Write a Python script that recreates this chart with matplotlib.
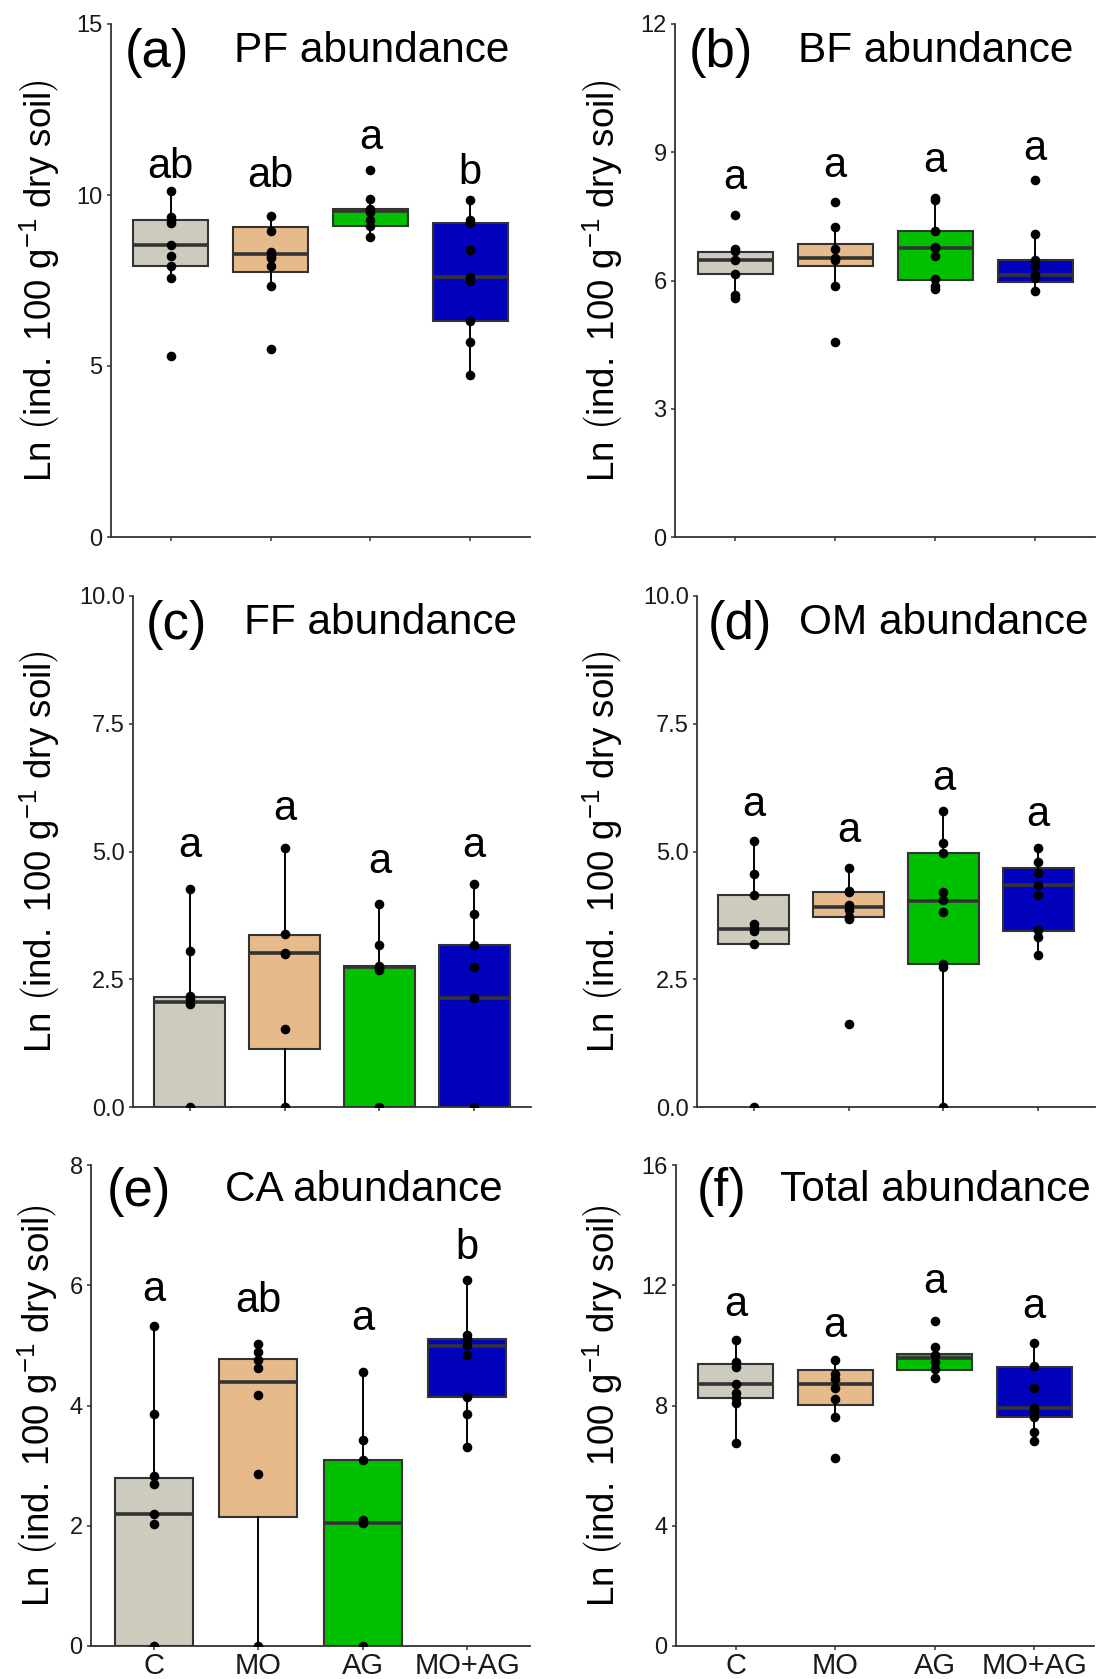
import matplotlib.pyplot as plt

plt.rcParams['font.family'] = 'Liberation Sans'
plt.rcParams['mathtext.fontset'] = 'custom'
plt.rcParams['mathtext.rm'] = 'Liberation Sans'
plt.rcParams['mathtext.it'] = 'Liberation Sans:italic'
plt.rcParams['mathtext.bf'] = 'Liberation Sans:bold'

W, H = 1096, 1679

groups = ['C', 'MO', 'AG', 'MO+AG']
colors = ['#CDCBBE', '#E6BA8A', '#00C000', '#0202BC']

# box stats per group: whislo, q1, median, q3, whishi
pf_box = [[7.56, 7.92, 8.53, 9.28, 10.12],
          [7.33, 7.75, 8.27, 9.05, 9.39],
          [8.76, 9.10, 9.53, 9.60, 9.88],
          [4.74, 6.33, 7.59, 9.18, 9.84]]
pf_pts = [[10.12, 9.36, 9.26, 9.18, 8.53, 8.21, 7.92, 7.56, 5.29],
          [9.39, 8.95, 8.34, 8.22, 8.15, 7.93, 7.33, 5.50],
          [10.72, 9.88, 9.60, 9.51, 9.26, 9.10, 8.76],
          [9.84, 9.26, 9.18, 8.40, 7.59, 7.49, 6.33, 5.71, 4.74]]
pf_letters = ['ab', 'ab', 'a', 'b']
pf_letter_y = [10.51, 10.22, 11.34, 10.33]

bf_box = [[5.59, 6.15, 6.47, 6.66, 6.74],
          [5.88, 6.33, 6.53, 6.86, 7.24],
          [5.80, 6.01, 6.76, 7.16, 7.94],
          [5.76, 5.97, 6.13, 6.49, 7.08]]
bf_pts = [[7.53, 6.74, 6.68, 6.47, 6.15, 5.66, 5.59],
          [7.83, 7.24, 6.74, 6.53, 6.47, 5.88, 4.57],
          [7.94, 7.88, 7.16, 6.79, 6.76, 6.57, 6.03, 5.86, 5.80],
          [8.35, 7.08, 6.49, 6.34, 6.13, 6.05, 5.76]]
bf_letters = ['a', 'a', 'a', 'a']
bf_letter_y = [8.14, 8.43, 8.53, 8.83]

ff_box = [[0, 0, 2.06, 2.15, 4.27],
          [0, 1.14, 3.01, 3.36, 5.06],
          [0, 0, 2.73, 2.75, 3.97],
          [0, 0, 2.13, 3.17, 4.36]]
ff_pts = [[4.27, 3.06, 2.18, 2.11, 2.02, 0],
          [5.06, 3.38, 3.01, 2.99, 1.53, 0],
          [3.97, 3.17, 2.75, 2.72, 2.68, 0],
          [4.36, 3.77, 3.17, 2.73, 2.13, 0]]
ff_letters = ['a', 'a', 'a', 'a']
ff_letter_y = [4.90, 5.61, 4.58, 4.90]

om_box = [[3.19, 3.19, 3.49, 4.14, 5.21],
          [3.68, 3.71, 3.91, 4.20, 4.67],
          [0, 2.79, 4.04, 4.97, 5.79],
          [2.98, 3.45, 4.34, 4.67, 5.07]]
om_pts = [[5.21, 4.56, 4.14, 3.58, 3.50, 3.44, 3.19, 0],
          [4.67, 4.23, 4.20, 3.95, 3.85, 3.72, 3.68, 1.62],
          [5.79, 5.16, 4.97, 4.20, 4.06, 3.81, 2.79, 2.73, 0],
          [5.07, 4.79, 4.58, 4.34, 4.15, 3.47, 3.33, 2.98]]
om_letters = ['a', 'a', 'a', 'a']
om_letter_y = [5.69, 5.19, 6.21, 5.49]

ca_box = [[0, 0, 2.19, 2.80, 5.32],
          [0, 2.14, 4.39, 4.77, 5.02],
          [0, 0, 2.05, 3.09, 4.56],
          [3.31, 4.14, 4.99, 5.10, 6.08]]
ca_pts = [[5.32, 3.86, 2.82, 2.70, 2.19, 2.03, 0],
          [5.02, 4.89, 4.75, 4.62, 4.17, 2.86, 0],
          [4.56, 3.43, 3.09, 2.09, 2.05, 0],
          [6.08, 5.18, 5.10, 5.01, 4.84, 4.14, 3.86, 3.31]]
ca_letters = ['a', 'ab', 'a', 'b']
ca_letter_y = [5.74, 5.55, 5.25, 6.44]

tot_box = [[6.75, 8.26, 8.70, 9.38, 10.19],
           [7.63, 8.03, 8.72, 9.18, 9.50],
           [8.93, 9.18, 9.58, 9.71, 9.96],
           [6.81, 7.61, 7.92, 9.27, 10.07]]
tot_pts = [[10.19, 9.44, 9.27, 8.70, 8.41, 8.24, 8.07, 6.75],
           [9.50, 9.04, 8.87, 8.58, 8.21, 7.63, 6.27],
           [10.82, 9.96, 9.67, 9.44, 9.21, 8.93],
           [10.07, 9.30, 8.58, 7.92, 7.78, 7.61, 7.12, 6.81]]
tot_letters = ['a', 'a', 'a', 'a']
tot_letter_y = [10.99, 10.28, 11.73, 10.90]

tags = ['(a)', '(b)', '(c)', '(d)', '(e)', '(f)']
titles = ['PF abundance', 'BF abundance', 'FF abundance', 'OM abundance',
          'CA abundance', 'Total abundance']
yticks = [[0, 5, 10, 15], [0, 3, 6, 9, 12],
          [0, 2.5, 5, 7.5, 10], [0, 2.5, 5, 7.5, 10],
          [0, 2, 4, 6, 8], [0, 4, 8, 12, 16]]
ytick_fmt = ['{:.0f}', '{:.0f}', '{:.1f}', '{:.1f}', '{:.0f}', '{:.0f}']

# axes boxes in pixels: left, right, top, bottom
px = [(111, 530, 24, 537), (675, 1095, 24, 537),
      (133, 531, 596, 1107), (697, 1095, 596, 1107),
      (91, 530, 1165, 1646), (676, 1094, 1165, 1646)]
label_x = [40, 603, 40, 603, 38, 603]

boxes = [pf_box, bf_box, ff_box, om_box, ca_box, tot_box]
points = [pf_pts, bf_pts, ff_pts, om_pts, ca_pts, tot_pts]
letters = [pf_letters, bf_letters, ff_letters, om_letters, ca_letters, tot_letters]
letter_y = [pf_letter_y, bf_letter_y, ff_letter_y, om_letter_y, ca_letter_y, tot_letter_y]

ylab = r'Ln$\ \left(\mathrm{ind.\ 100\ g^{-1}\ dry\ soil}\right)$'
edge = '#333333'

fig = plt.figure(figsize=(W / 100, H / 100), dpi=100)

for i in range(6):
    l, r, t, b = px[i]
    ax = fig.add_axes([l / W, (H - b) / H, (r - l) / W, (b - t) / H])
    pos = [1, 2, 3, 4]

    stats = []
    for s in boxes[i]:
        stats.append(dict(whislo=s[0], q1=s[1], med=s[2], q3=s[3], whishi=s[4], fliers=[]))
    bp = ax.bxp(stats, positions=pos, widths=0.75, patch_artist=True,
                showfliers=False, showcaps=False,
                boxprops=dict(edgecolor=edge, linewidth=1.5),
                medianprops=dict(color=edge, linewidth=2.6),
                whiskerprops=dict(color='black', linewidth=1.4))
    for patch, c in zip(bp['boxes'], colors):
        patch.set_facecolor(c)

    for p, pts in zip(pos, points[i]):
        ax.scatter([p] * len(pts), pts, s=48, color='black', zorder=5, linewidths=0)

    for p, lab, y in zip(pos, letters[i], letter_y[i]):
        ax.text(p, y, lab, ha='center', va='baseline', fontsize=30)

    ax.text(0.109, 0.943, tags[i], transform=ax.transAxes, ha='center', va='center',
            fontsize=38)
    ax.text(0.621, 0.948, titles[i], transform=ax.transAxes, ha='center', va='center',
            fontsize=30.5)

    ax.set_xlim(0.4, 4.6)
    ax.set_ylim(yticks[i][0], yticks[i][-1])
    ax.set_yticks(yticks[i])
    ax.set_yticklabels([ytick_fmt[i].format(v) for v in yticks[i]])
    ax.set_xticks(pos)
    if i >= 4:
        ax.set_xticklabels(groups)
    else:
        ax.set_xticklabels([])

    for side in ['top', 'right']:
        ax.spines[side].set_visible(False)
    for side in ['left', 'bottom']:
        ax.spines[side].set_color(edge)
        ax.spines[side].set_linewidth(1.3)
    ax.tick_params(axis='both', colors=edge, width=1.1, length=3, labelcolor='#1a1a1a')
    ax.tick_params(axis='y', labelsize=17, pad=3)
    ax.tick_params(axis='x', labelsize=21, pad=1)

    fig.text(label_x[i] / W, (H - (t + b) / 2) / H, ylab, rotation=90,
             ha='center', va='center', fontsize=26.5)

fig.savefig('out.png', dpi=100, facecolor='white')
